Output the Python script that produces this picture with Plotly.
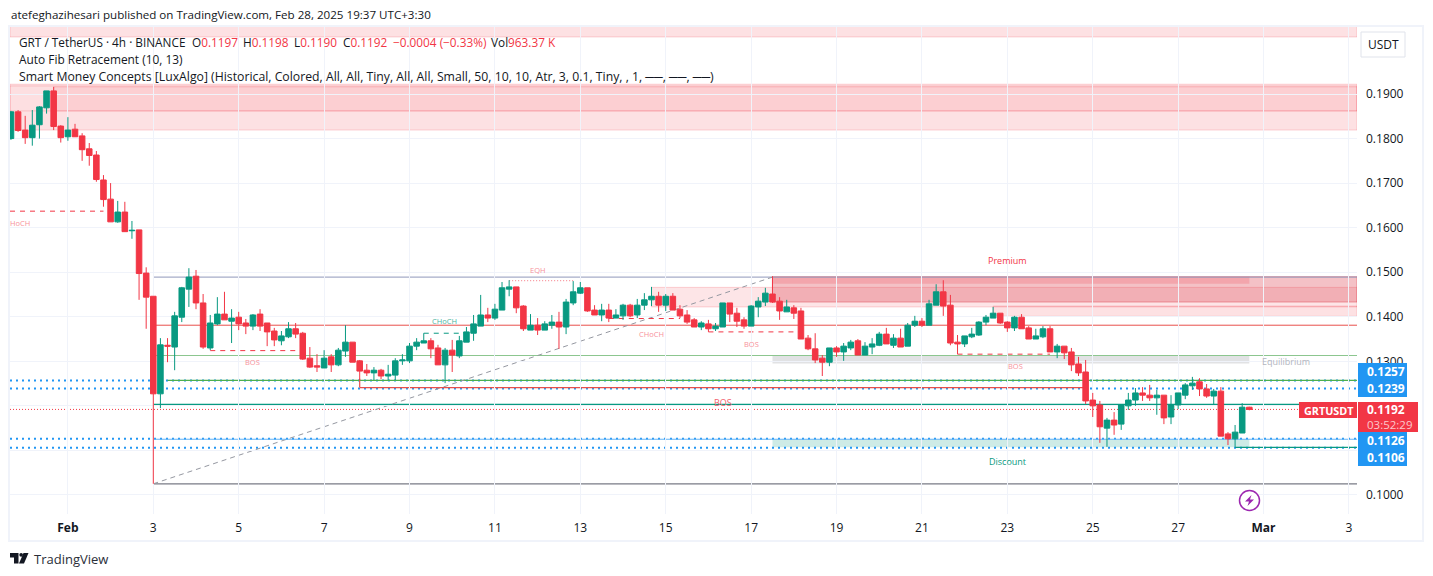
import pandas as pd
import plotly.graph_objects as go

opens = [.1800,.1860,.1819,.1802,.1831,.1869,.1907,.1828,.1804,.1821,
 .1806,.1777,.1763,.1707,.1664,.1613,.1635,.1593,.1595,.1498,
 .1446,.1227,.1336,.1332,.1399,.1462,.1491,.1431,.1330,.1384,
 .1406,.1390,.1399,.1386,.1379,.1406,.1386,.1368,.1346,.1355,
 .1373,.1363,.1307,.1290,.1285,.1310,.1292,.1323,.1343,.1301,
 .1280,.1274,.1280,.1267,.1269,.1301,.1301,.1334,.1341,.1346,
 .1330,.1292,.1325,.1312,.1343,.1363,.1379,.1404,.1397,.1415,
 .1462,.1467,.1424,.1370,.1381,.1370,.1381,.1388,.1377,.1431,
 .1453,.1465,.1415,.1404,.1415,.1397,.1402,.1426,.1404,.1426,
 .1438,.1446,.1426,.1446,.1417,.1404,.1393,.1377,.1384,.1373,
 .1377,.1431,.1408,.1393,.1379,.1422,.1433,.1451,.1435,.1411,
 .1420,.1413,.1352,.1328,.1307,.1298,.1330,.1321,.1330,.1346,
 .1314,.1332,.1336,.1361,.1336,.1352,.1334,.1381,.1390,.1381,
 .1426,.1456,.1426,.1343,.1339,.1355,.1359,.1388,.1397,.1408,
 .1388,.1375,.1399,.1375,.1350,.1355,.1373,.1321,.1334,.1321,
 .1294,.1276,.1213,.1202,.1150,.1168,.1159,.1200,.1213,.1229,
 .1224,.1218,.1224,.1175,.1202,.1224,.1245,.1254,.1238,.1222,
 .1233,.1137,.1126,.1139,.1197]
highs = [.1862,.1864,.1851,.1864,.1873,.1907,.1916,.1830,.1848,.1833,
 .1812,.1790,.1772,.1718,.1700,.1660,.1658,.1615,.1595,.1511,
 .1446,.1352,.1352,.1411,.1467,.1509,.1505,.1451,.1404,.1444,
 .1456,.1417,.1411,.1395,.1406,.1417,.1386,.1375,.1368,.1388,
 .1386,.1366,.1332,.1316,.1325,.1316,.1330,.1381,.1343,.1303,
 .1294,.1287,.1283,.1292,.1307,.1316,.1341,.1352,.1363,.1352,
 .1337,.1330,.1348,.1357,.1377,.1404,.1449,.1420,.1429,.1478,
 .1482,.1467,.1426,.1406,.1397,.1390,.1404,.1411,.1440,.1480,
 .1478,.1465,.1426,.1429,.1429,.1417,.1429,.1429,.1440,.1453,
 .1467,.1456,.1451,.1453,.1426,.1415,.1397,.1390,.1393,.1386,
 .1431,.1431,.1420,.1399,.1426,.1444,.1465,.1491,.1444,.1438,
 .1426,.1420,.1359,.1363,.1314,.1330,.1334,.1341,.1348,.1350,
 .1343,.1352,.1366,.1375,.1361,.1373,.1386,.1402,.1397,.1438,
 .1473,.1482,.1449,.1359,.1357,.1375,.1390,.1404,.1422,.1408,
 .1390,.1402,.1406,.1379,.1373,.1379,.1379,.1339,.1334,.1330,
 .1310,.1303,.1229,.1211,.1173,.1186,.1204,.1229,.1240,.1242,
 .1247,.1236,.1224,.1224,.1229,.1251,.1265,.1262,.1249,.1238,
 .1242,.1141,.1157,.1206,.1198]
lows = [.1797,.1815,.1788,.1784,.1800,.1856,.1819,.1791,.1795,.1804,
 .1750,.1739,.1703,.1647,.1613,.1611,.1591,.1575,.1438,.1373,
 .1025,.1195,.1298,.1280,.1388,.1422,.1417,.1328,.1325,.1381,
 .1393,.1341,.1370,.1361,.1370,.1368,.1334,.1334,.1336,.1352,
 .1352,.1303,.1285,.1276,.1285,.1276,.1289,.1310,.1298,.1258,
 .1267,.1258,.1260,.1258,.1258,.1292,.1296,.1325,.1341,.1307,
 .1292,.1251,.1276,.1307,.1343,.1346,.1379,.1388,.1393,.1415,
 .1446,.1408,.1368,.1370,.1359,.1370,.1373,.1328,.1361,.1426,
 .1451,.1411,.1404,.1390,.1388,.1397,.1393,.1399,.1397,.1415,
 .1424,.1411,.1413,.1415,.1397,.1384,.1377,.1370,.1366,.1368,
 .1377,.1388,.1377,.1373,.1379,.1399,.1424,.1431,.1393,.1411,
 .1395,.1350,.1325,.1296,.1267,.1289,.1310,.1301,.1325,.1314,
 .1314,.1316,.1334,.1339,.1330,.1332,.1334,.1377,.1377,.1381,
 .1426,.1402,.1336,.1316,.1332,.1352,.1357,.1381,.1397,.1384,
 .1366,.1368,.1373,.1350,.1350,.1352,.1321,.1307,.1305,.1278,
 .1267,.1204,.1175,.1117,.1108,.1135,.1146,.1191,.1200,.1211,
 .1211,.1180,.1159,.1159,.1193,.1215,.1236,.1222,.1218,.1202,
 .1132,.1112,.1108,.1139,.1190]
closes = [.1860,.1818,.1802,.1830,.1871,.1907,.1827,.1802,.1819,.1804,
 .1775,.1762,.1708,.1663,.1613,.1635,.1591,.1594,.1497,.1444,
 .1227,.1337,.1334,.1402,.1465,.1489,.1431,.1332,.1386,.1406,
 .1393,.1397,.1384,.1379,.1404,.1379,.1366,.1348,.1357,.1373,
 .1361,.1305,.1287,.1287,.1307,.1292,.1325,.1343,.1298,.1278,
 .1274,.1280,.1267,.1271,.1301,.1303,.1334,.1343,.1346,.1328,
 .1292,.1325,.1314,.1346,.1366,.1384,.1404,.1397,.1417,.1465,
 .1467,.1420,.1373,.1381,.1370,.1384,.1388,.1377,.1433,.1456,
 .1465,.1413,.1404,.1415,.1397,.1404,.1426,.1402,.1426,.1438,
 .1446,.1426,.1446,.1415,.1402,.1388,.1377,.1386,.1373,.1379,
 .1431,.1406,.1390,.1379,.1424,.1435,.1453,.1433,.1413,.1422,
 .1408,.1350,.1328,.1303,.1298,.1330,.1321,.1334,.1343,.1314,
 .1334,.1339,.1361,.1339,.1352,.1332,.1381,.1390,.1381,.1429,
 .1456,.1424,.1341,.1339,.1357,.1361,.1388,.1399,.1408,.1386,
 .1375,.1399,.1373,.1350,.1357,.1373,.1321,.1334,.1319,.1292,
 .1274,.1211,.1200,.1153,.1168,.1157,.1202,.1213,.1229,.1224,
 .1218,.1224,.1173,.1202,.1229,.1247,.1251,.1238,.1222,.1233,
 .1132,.1126,.1141,.1197,.1192]

times = pd.date_range("2025-01-30 16:00", periods=len(opens), freq="4h")
tick_dates = ["2025-02-01"] + [f"2025-02-{d:02d}" for d in range(3, 28, 2)] + ["2025-03-01", "2025-03-03"]
tick_labels = ["<b>Feb</b>"] + [str(d) for d in range(3, 28, 2)] + ["<b>Mar</b>", "3"]
price_ticks = [.10, .11, .12, .13, .14, .15, .16, .17, .18, .19]
price_labels = ["0.1000", "", "", "0.1300", "0.1400", "0.1500", "0.1600", "0.1700", "0.1800", "0.1900"]

# Smart Money Concepts levels
eqh_level, hi_line, mid_line = .1489, .1381, .1313
sup_a, sup_b, res_c, swing_low = .1257, .1241, .1203, .1025
dot_a, dot_b, dot_c, dot_d = .1257, .1239, .1126, .1106
last_price = .1192

W, H = 1433, 576
L, R, T, B = 10, 1357, 27, 514
UP, DOWN = "#089981", "#f23645"
FONT = "Open Sans"
PINK = "#f7929a"

anchor = pd.Timestamp("2025-02-03")
per_px = pd.Timedelta(hours=4) / 7.117
xmin = anchor + (L - 153.3) * per_px
xmax = anchor + (R - 153.3) * per_px
ymin = .19 - (B - 94) / 4455
ymax = .19 + (94 - T) / 4455


def tx(i):
    return times[i].isoformat()


def px(v):
    return (v - L) / (R - L)


def py(v):
    return (B - v) / (B - T)


XL, XR = xmin.isoformat(), xmax.isoformat()
shapes = []


def zone(x0, x1, p0, p1, fill, line=None):
    shapes.append(dict(type="rect", xref="x", yref="y", x0=x0, x1=x1, y0=p0, y1=p1, fillcolor=fill,
                       line=dict(width=1 if line else 0, color=line or fill), layer="below"))


def level(x0, x1, p0, color, width=1, dash="solid", p1=None):
    shapes.append(dict(type="line", xref="x", yref="y", x0=x0, x1=x1, y0=p0, y1=p0 if p1 is None else p1,
                       line=dict(color=color, width=width, dash=dash), layer="below"))


# supply / demand zones
soft = "rgba(242,54,69,0.15)"
edge = "rgba(242,54,69,0.20)"
zone(XL, XR, .2028, .2060, soft, edge)
zone(XL, XR, .1819, .1922, soft, edge)
zone(XL, XR, .1862, .1918, "rgba(242,54,69,0.01)", edge)
zone(tx(6), XR, .1862, .1916, "rgba(242,54,69,0.09)", edge)
zone(tx(90), XR, .1422, .1466, "rgba(242,54,69,0.13)", edge)
zone(tx(138), XR, .1401, .1424, soft, edge)
zone(tx(107), XR, .1433, .1490, "rgba(220,50,65,0.30)", "rgba(220,50,65,0.42)")
zone(tx(107), tx(174), .1474, .1490, "rgba(242,54,69,0.20)")
zone(tx(107), tx(174), .1295, .1313, "rgba(120,123,134,0.22)")
zone(tx(107), tx(174), .1107, .1125, "rgba(8,153,129,0.20)")

# long horizontal levels
level(tx(20), XR, eqh_level, "#8f97ba")
level(tx(20), XR, hi_line, "#e8504c")
level(tx(20), XR, mid_line, "#8cc68f")
level(XL, XR, dot_a, "#2196f3", 2, "2px,4px")
level(XL, XR, dot_b, "#2196f3", 2, "2px,4px")
level(XL, XR, dot_c, "#2196f3", 2, "2px,4px")
level(XL, XR, dot_d, "#2196f3", 2, "2px,4px")
level(tx(22), XR, sup_a, "#4caf50", 1.3)
level(tx(20), XR, res_c, "#089981", 1.3)
level(XL, XR, last_price, DOWN, 1, "1px,2px")
level(tx(20), XR, swing_low, "#787b86", 1.2)
level(tx(20), tx(107), swing_low, "#9598a1", 1, "5px,4px", eqh_level)
level(tx(20), XR, .1125, "#64b5f6", 1.2)
level(tx(49), tx(151), sup_b, "#e8504c", 1.2)
level(tx(49), tx(49), .1261, "#e8504c", 1.2, "solid", sup_b)
level(tx(172), XR, .1107, UP, 1.2)

# structure breaks
level(XL, tx(13), .1637, DOWN, 1, "5px,5px")
level(tx(28), tx(41), .1324, DOWN, 1, "5px,5px")
level(tx(58), tx(63), .1363, UP, 1, "5px,5px")
level(tx(70), tx(79), .1481, "#f7929a", 1.2, "1px,2px")
level(tx(84), tx(94), .1396, DOWN, 1, "5px,5px")
level(tx(98), tx(111), .1366, DOWN, 1, "5px,5px")
level(tx(133), tx(146), .1316, DOWN, 1, "5px,5px")

fig = go.Figure(go.Candlestick(
    x=times, open=opens, high=highs, low=lows, close=closes,
    increasing=dict(line=dict(color=UP, width=1), fillcolor=UP),
    decreasing=dict(line=dict(color=DOWN, width=1), fillcolor=DOWN),
    whiskerwidth=0, showlegend=False))

annotations = []


def label(text, x, y, color="#131722", size=12, anchor_x="left", bold=False, font=FONT):
    annotations.append(dict(text=f"<b>{text}</b>" if bold else text, xref="paper", yref="paper", x=px(x), y=py(y),
                            xanchor=anchor_x, yanchor="middle", showarrow=False,
                            font=dict(family=font, size=size, color=color), align="left",
                            borderpad=0, bgcolor="rgba(0,0,0,0)"))


def box(x0, x1, y0, y1, fill, line=None, radius=False):
    shapes.append(dict(type="rect", xref="paper", yref="paper", x0=px(x0), x1=px(x1), y0=py(y0), y1=py(y1),
                       fillcolor=fill, line=dict(width=1 if line else 0, color=line or fill), layer="above"))


# frame
shapes.append(dict(type="rect", xref="paper", yref="paper", x0=px(9), x1=px(1423), y0=py(26), y1=py(541),
                   fillcolor="rgba(0,0,0,0)", line=dict(color="#f0f3fa", width=2), layer="above"))

# structure labels
label("HoCH", 20, 223.5, PINK, 7.5, "center")
label("BOS", 252, 362, PINK, 7.5, "center")
label("CHoCH", 444, 321, "#4db6a4", 7.5, "center")
label("EQH", 537.5, 269.5, PINK, 7.5, "center")
label("CHoCH", 651, 333.5, PINK, 7.5, "center")
label("BOS", 751, 344.5, PINK, 7.5, "center")
label("BOS", 723, 402.5, "#f2606c", 9, "center")
label("BOS", 1015, 366, PINK, 7.5, "center")
label("Premium", 1007, 260.5, DOWN, 9, "center")
label("Equilibrium", 1286, 361.5, "#b2b5be", 9, "center")
label("Discount", 1007, 461.5, UP, 9, "center")

# header
label("atefeghazihesari published on TradingView.com, Feb 28, 2025 19:37 UTC+3:30", 10, 14.5, "#131722", 11.6)
red = lambda s: f"<span style='color:{DOWN}'>{s}</span>"
label("GRT / TetherUS · 4h · BINANCE", 18, 42, "#131722", 11.8)
label("O" + red("0.1197"), 190.5, 42, "#131722", 11.8)
label("H" + red("0.1198"), 241.5, 42, "#131722", 11.8)
label("L" + red("0.1190"), 292.5, 42, "#131722", 11.8)
label("C" + red("0.1192"), 342, 42, "#131722", 11.8)
label(red("−0.0004 (−0.33%)"), 392, 42, "#131722", 11.8)
label("Vol" + red("963.37 K"), 490, 42, "#131722", 11.8)
label("Auto Fib Retracement (10, 13)", 18, 59, "#131722", 11.9)
label("Smart Money Concepts [LuxAlgo] (Historical, Colored, All, All, Tiny, All, All, Small, 50, 10, 10, Atr, 3, 0.1, "
      "Tiny, , 1, ──, ──, ──)", 18, 76, "#131722", 12.25)

# price scale labels
box(1361, 1405, 32, 57, "#ffffff", "#e0e3eb")
label("USDT", 1383, 44.5, "#131722", 12, "center")
box(1358, 1407, 363, 397, "#2196f3")
box(1358, 1407, 432, 466, "#2196f3")
box(1358, 1418, 402, 432, DOWN)
box(1299, 1357, 402, 418, DOWN)
label("<b>0.1257</b>", 1366, 371.5, "#ffffff", 12)
label("<b>0.1239</b>", 1366, 388.5, "#ffffff", 12)
label("<b>0.1192</b>", 1366, 409.5, "#ffffff", 12)
label("03:52:29", 1366, 424, "#fcc8cc", 11.5)
label("<b>0.1126</b>", 1366, 440.5, "#ffffff", 12)
label("<b>0.1106</b>", 1366, 457.5, "#ffffff", 12)
label("<b>GRTUSDT</b>", 1303, 410, "#ffffff", 10.8)

# flash icon
shapes.append(dict(type="circle", xref="paper", yref="paper", x0=px(1239.5), x1=px(1259.5), y0=py(490.5), y1=py(510.5),
                   line=dict(color="#9c27b0", width=1.5), fillcolor="#ffffff", layer="above"))
shapes.append(dict(type="path", xref="paper", yref="paper",
                   path="M {} {} L {} {} L {} {} L {} {} L {} {} L {} {} Z".format(
                       px(1251.5), py(495), px(1245), py(501.5), px(1249), py(501.5),
                       px(1247.5), py(506), px(1254), py(499.5), px(1250), py(499.5)),
                   fillcolor="#9c27b0", line=dict(width=0), layer="above"))

# TradingView mark
shapes.append(dict(type="path", xref="paper", yref="paper",
                   path="M {} {} L {} {} L {} {} L {} {} L {} {} L {} {} Z".format(
                       px(10), py(553), px(18.5), py(553), px(18.5), py(563.5), px(14), py(563.5),
                       px(14), py(557.5), px(10), py(557.5)),
                   fillcolor="#131722", line=dict(width=0), layer="above"))
shapes.append(dict(type="circle", xref="paper", yref="paper", x0=px(19.3), x1=px(23), y0=py(553), y1=py(556.7),
                   fillcolor="#131722", line=dict(width=0), layer="above"))
shapes.append(dict(type="path", xref="paper", yref="paper",
                   path="M {} {} L {} {} L {} {} L {} {} Z".format(
                       px(23.5), py(553), px(28.5), py(553), px(24), py(563.5), px(19), py(563.5)),
                   fillcolor="#131722", line=dict(width=0), layer="above"))
label("TradingView", 33, 558.5, "#2a2e39", 13)

GRID = "#f0f3fa"
fig.update_layout(
    width=W, height=H, autosize=False,
    margin=dict(l=L, r=W - R, t=T, b=H - B, pad=0),
    paper_bgcolor="#ffffff", plot_bgcolor="#ffffff",
    font=dict(family=FONT, size=12, color="#131722"),
    shapes=shapes, annotations=annotations, showlegend=False, boxgap=0.22, boxgroupgap=0,
    xaxis=dict(type="date", range=[XL, XR], rangeslider=dict(visible=False), tickmode="array",
               tickvals=tick_dates, ticktext=tick_labels, showgrid=True, gridcolor=GRID, gridwidth=1,
               zeroline=False, showline=False, ticks="", ticklabelstandoff=5, tickfont=dict(size=12, color="#131722")),
    yaxis=dict(side="right", range=[ymin, ymax], tickmode="array", tickvals=price_ticks, ticktext=price_labels,
               showgrid=True, gridcolor=GRID, gridwidth=1, zeroline=False, showline=False, ticks="",
               ticklabelstandoff=8, tickfont=dict(size=12, color="#131722")),
)
fig.write_html("out.html", config=dict(displayModeBar=False),
               post_script="document.body.style.margin='0';document.body.style.overflow='hidden';")
